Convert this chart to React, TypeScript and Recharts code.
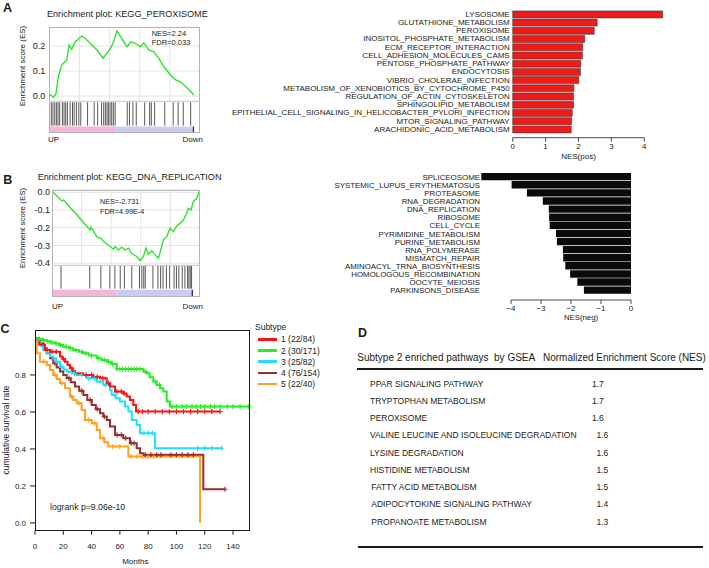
import {
  BarChart,
  Bar,
  XAxis,
  YAxis,
  LineChart,
  Line,
  CartesianGrid,
  ReferenceLine,
  ReferenceArea,
  ComposedChart,
  Scatter,
} from "recharts";

const FONT = '"Liberation Sans", Arial, Helvetica, sans-serif';
const INK = "#1a1a1a";

// ---- A (right): pathways with positive NES
const posPathways = [
  "LYSOSOME",
  "GLUTATHIONE_METABOLISM",
  "PEROXISOME",
  "INOSITOL_PHOSPHATE_METABOLISM",
  "ECM_RECEPTOR_INTERACTION",
  "CELL_ADHESION_MOLECULES_CAMS",
  "PENTOSE_PHOSPHATE_PATHWAY",
  "ENDOCYTOSIS",
  "VIBRIO_CHOLERAE_INFECTION",
  "METABOLISM_OF_XENOBIOTICS_BY_CYTOCHROME_P450",
  "REGULATION_OF_ACTIN_CYTOSKELETON",
  "SPHINGOLIPID_METABOLISM",
  "EPITHELIAL_CELL_SIGNALING_IN_HELICOBACTER_PYLORI_INFECTION",
  "MTOR_SIGNALING_PATHWAY",
  "ARACHIDONIC_ACID_METABOLISM",
];
const posNES = [4.56, 2.57, 2.48, 2.19, 2.13, 2.12, 2.07, 2.06, 2.01, 1.86, 1.85, 1.85, 1.81, 1.79, 1.78];
const posTicks = [0, 1, 2, 3, 4];

// ---- B (right): pathways with negative NES
const negPathways = [
  "SPLICEOSOME",
  "SYSTEMIC_LUPUS_ERYTHEMATOSUS",
  "PROTEASOME",
  "RNA_DEGRADATION",
  "DNA_REPLICATION",
  "RIBOSOME",
  "CELL_CYCLE",
  "PYRIMIDINE_METABOLISM",
  "PURINE_METABOLISM",
  "RNA_POLYMERASE",
  "MISMATCH_REPAIR",
  "AMINOACYL_TRNA_BIOSYNTHESIS",
  "HOMOLOGOUS_RECOMBINATION",
  "OOCYTE_MEIOSIS",
  "PARKINSONS_DISEASE",
];
const negNES = [-4.99, -3.98, -3.47, -2.94, -2.74, -2.73, -2.71, -2.5, -2.47, -2.27, -2.26, -2.19, -2.03, -1.79, -1.57];
const negTicks = [-4, -3, -2, -1, 0];

// ---- A (left): running enrichment score, KEGG_PEROXISOME
const peroxRank = [0, 0.027, 0.044, 0.06, 0.082, 0.116, 0.131, 0.149, 0.171, 0.187, 0.216, 0.238, 0.271, 0.316, 0.356, 0.382, 0.411, 0.427, 0.449, 0.471, 0.516, 0.542, 0.571, 0.604, 0.627, 0.66, 0.693, 0.727, 0.76, 0.804, 0.838, 0.871, 0.916, 0.96];
const peroxES = [0.008, -0.005, 0.008, 0.077, 0.124, 0.144, 0.204, 0.187, 0.217, 0.224, 0.24, 0.231, 0.211, 0.184, 0.151, 0.171, 0.197, 0.217, 0.261, 0.24, 0.197, 0.217, 0.211, 0.197, 0.213, 0.184, 0.177, 0.151, 0.117, 0.084, 0.064, 0.057, 0.031, 0.004];
const peroxHits = [0.013, 0.024, 0.036, 0.047, 0.058, 0.069, 0.087, 0.098, 0.109, 0.12, 0.138, 0.154, 0.165, 0.18, 0.196, 0.209, 0.254, 0.298, 0.321, 0.347, 0.361, 0.372, 0.383, 0.392, 0.403, 0.414, 0.425, 0.437, 0.517, 0.532, 0.555, 0.577, 0.633, 0.666, 0.677, 0.699, 0.766, 0.822, 0.855, 0.889, 0.938];
const peroxTicks = [0, 0.1, 0.2];

// ---- B (left): running enrichment score, KEGG_DNA_REPLICATION
const dnaRank = [0.007, 0.067, 0.079, 0.101, 0.169, 0.236, 0.258, 0.263, 0.303, 0.337, 0.348, 0.393, 0.416, 0.427, 0.449, 0.472, 0.494, 0.517, 0.539, 0.573, 0.596, 0.618, 0.634, 0.652, 0.674, 0.697, 0.719, 0.73, 0.753, 0.775, 0.798, 0.82, 0.843, 0.865, 0.888, 0.91, 0.921, 0.939, 0.955, 0.978, 0.996];
const dnaES = [0, -0.049, -0.043, -0.066, -0.128, -0.193, -0.212, -0.197, -0.25, -0.263, -0.278, -0.306, -0.321, -0.306, -0.325, -0.31, -0.325, -0.315, -0.347, -0.362, -0.385, -0.362, -0.315, -0.349, -0.33, -0.353, -0.371, -0.34, -0.268, -0.25, -0.203, -0.221, -0.19, -0.174, -0.156, -0.118, -0.09, -0.099, -0.053, -0.034, 0.004];
const dnaHits = [0.061, 0.255, 0.33, 0.391, 0.425, 0.461, 0.489, 0.539, 0.591, 0.607, 0.62, 0.63, 0.682, 0.716, 0.734, 0.75, 0.773, 0.795, 0.825, 0.841, 0.857, 0.88, 0.898, 0.916, 0.925, 0.934, 0.943];
const dnaTicks = [0, -0.1, -0.2, -0.3, -0.4];

// ---- C: Kaplan-Meier by subtype
const kmLabels = ["1 (22/84)", "2 (30/171)", "3 (25/82)", "4 (76/154)", "5 (22/40)"];
const kmColors = ["#ff1010", "#22ee22", "#22ddff", "#9b2d2d", "#ffa020"];
const kmTime1 = [0, 3, 7, 10.6, 17.7, 19.5, 21.2, 23, 24.7, 26.5, 28.3, 34, 41.2, 46, 50.7, 53, 56.6, 62.4, 64.8, 67.2, 69.5, 71.4, 130.8];
const kmSurv1 = [1, 0.965, 0.935, 0.926, 0.9, 0.886, 0.872, 0.854, 0.836, 0.822, 0.809, 0.8, 0.79, 0.782, 0.755, 0.737, 0.71, 0.7, 0.683, 0.665, 0.638, 0.602, 0.602];
const kmCensor1 = [12, 15, 20, 26, 36, 40, 44, 48, 52, 58, 61, 63, 73, 76, 80, 85, 90, 95, 100, 105, 110, 115, 120, 125, 130.8];
const kmTime2 = [0, 2, 5, 8, 10.6, 14, 17, 20, 24, 27, 31, 34, 38, 43.6, 47, 50.7, 54, 57.8, 76.6, 79, 81, 83.6, 86, 88.4, 90.7, 93.1, 95.4, 150.8];
const kmSurv2 = [1, 0.994, 0.988, 0.982, 0.976, 0.97, 0.962, 0.953, 0.944, 0.935, 0.926, 0.917, 0.905, 0.89, 0.881, 0.872, 0.86, 0.832, 0.818, 0.809, 0.787, 0.764, 0.746, 0.728, 0.71, 0.656, 0.629, 0.629];
const kmCensor2 = [3, 6, 9, 12, 15, 18, 22, 25, 29, 33, 36, 40, 45, 49, 52, 55, 58, 60, 62, 64, 66, 68, 70, 72, 74, 78, 85, 88, 97, 100, 104, 107, 111, 114, 117, 120, 124, 127, 131, 136, 140, 145, 150.8];
const kmTime3 = [0, 2, 4, 5.9, 8, 10.6, 13, 15, 17.7, 20, 22.4, 26, 29.5, 36.5, 43.6, 48.3, 53, 54.2, 57, 60, 63.6, 66, 68.4, 71.9, 74.2, 84.8, 132];
const kmSurv3 = [1, 0.98, 0.957, 0.935, 0.917, 0.9, 0.89, 0.872, 0.845, 0.83, 0.818, 0.809, 0.8, 0.782, 0.764, 0.746, 0.719, 0.692, 0.674, 0.656, 0.629, 0.602, 0.557, 0.53, 0.485, 0.404, 0.404];
const kmCensor3 = [15, 19, 24, 28, 33, 38, 42, 46, 50, 56, 77, 80, 83, 115, 120, 125, 132];
const kmTime4 = [0, 2, 3.5, 6, 8.3, 10.6, 12.9, 15.3, 17.7, 20, 22.4, 25.3, 28.3, 31.2, 34.2, 37, 40.1, 43, 46, 48.3, 50.7, 53, 56.6, 62.4, 67.2, 71.9, 74.2, 76.6, 119, 134.3];
const kmSurv4 = [1, 0.985, 0.971, 0.944, 0.917, 0.89, 0.863, 0.84, 0.818, 0.8, 0.782, 0.76, 0.737, 0.714, 0.692, 0.665, 0.638, 0.615, 0.593, 0.575, 0.557, 0.521, 0.476, 0.458, 0.431, 0.404, 0.377, 0.368, 0.182, 0.182];
const kmCensor4 = [14, 24, 33, 39, 44, 49, 58, 61, 64, 68, 70, 78, 82, 86, 89, 96, 100, 104, 108, 112, 134.3];
const kmTime5 = [0, 1.2, 3.5, 8.3, 10.6, 12.9, 15.3, 17.7, 21.2, 24.7, 27, 29.5, 33, 35.3, 40.1, 43.6, 46, 49, 51.8, 66, 116.7, 116.7];
const kmSurv5 = [1, 0.917, 0.872, 0.854, 0.827, 0.8, 0.778, 0.755, 0.728, 0.683, 0.665, 0.647, 0.611, 0.557, 0.539, 0.503, 0.458, 0.436, 0.413, 0.359, 0.359, 0];
const kmCensor5 = [6, 14, 19, 26, 31, 38, 42, 48, 55, 60, 68, 72, 76, 80, 84];
const kmXTicks = [0, 20, 40, 60, 80, 100, 120, 140];
const kmYTicks = [0, 0.2, 0.4, 0.6, 0.8];

// ---- D: table
const tablePathways = [
  "PPAR SIGNALING PATHWAY",
  "TRYPTOPHAN METABOLISM",
  "PEROXISOME",
  "VALINE LEUCINE AND ISOLEUCINE DEGRADATION",
  "LYSINE DEGRADATION",
  "HISTIDINE METABOLISM",
  "FATTY ACID METABOLISM",
  "ADIPOCYTOKINE SIGNALING PATHWAY",
  "PROPANOATE METABOLISM",
];
const tableNES = ["1.7", "1.7", "1.6", "1.6", "1.6", "1.5", "1.5", "1.4", "1.3"];

// layout of the two NES bar charts
const TICK_LEN = 4;
const TICK_GAP = 1.5;
const POS_YW = 312.7;
const POS_MAX = 4.6;
const POS_PLOT_W = 151.3;
const NEG_YW = 281;
const NEG_MIN = -5;
const NEG_PLOT_W = 150;

function makeNesTick(unitPx: number, lastValue: number) {
  return function NesTick(props: any) {
    const { x, y, payload } = props;
    const v = payload.value as number;
    const axisY = y - TICK_LEN - TICK_GAP;
    return (
      <g>
        {v < lastValue && (
          <line x1={x} x2={x + unitPx} y1={axisY} y2={axisY} stroke={INK} strokeWidth={0.8} />
        )}
        <line x1={x} x2={x} y1={axisY} y2={axisY + TICK_LEN} stroke={INK} strokeWidth={0.8} />
        <text x={x} y={y} dy="0.72em" textAnchor="middle" fontSize={8} fill={INK}>
          {v < 0 ? `\u2212${-v}` : `${v}`}
        </text>
      </g>
    );
  };
}

const posTick = makeNesTick(POS_PLOT_W / POS_MAX, 4);
const negTick = makeNesTick(NEG_PLOT_W / -NEG_MIN, 0);

function Txt({ x, y, size, anchor = "start", bold, rotate, children }: any) {
  const shift = anchor === "middle" ? "-50%" : anchor === "end" ? "-100%" : "0%";
  return (
    <div
      style={{
        position: "absolute",
        left: x,
        top: y,
        fontSize: size,
        fontWeight: bold ? 700 : 400,
        lineHeight: 1,
        whiteSpace: "pre",
        transform: `translate(${shift}, -50%)${rotate ? ` rotate(${rotate}deg)` : ""}`,
      }}
    >
      {children}
    </div>
  );
}

// Running-ES line on top, gene hits and ranked-list colour bar beneath it
function GseaPanel(p: any) {
  const esData = p.rank.map((x: number, i: number) => ({ x, es: p.es[i] }));
  const hitData = p.hits.map((x: number) => ({ x, y: p.hitY[0] }));
  const hitH = p.boxBottom - p.esBottom;
  const extra = 8; // room under the plot so the lowest tick label is not cut
  return (
    <>
      <div style={{ position: "absolute", left: 0, top: 0 }}>
        <LineChart
          width={p.boxRight + 5}
          height={p.esBottom + extra}
          data={esData}
          margin={{ top: p.boxTop, right: 5, left: 0, bottom: extra }}
        >
          <CartesianGrid stroke="#e4e4e4" verticalValues={[0.2, 0.4, 0.6, 0.8]} />
          <XAxis type="number" dataKey="x" domain={[0, 1]} ticks={[0.2, 0.4, 0.6, 0.8]} hide />
          <YAxis
            type="number"
            domain={p.domain}
            allowDataOverflow
            ticks={p.ticks}
            interval={0}
            width={p.boxLeft}
            tickFormatter={(v: number) => v.toFixed(1)}
            axisLine={false}
            tickLine={false}
            tickSize={p.tickSize}
            tickMargin={2}
            tick={{ fontSize: 9, fill: INK }}
          />
          <Line dataKey="es" stroke="#2be52b" strokeWidth={1.4} dot={false} isAnimationActive={false} />
        </LineChart>
      </div>
      <div style={{ position: "absolute", left: 0, top: p.esBottom }}>
        <ComposedChart
          width={p.boxRight + 5}
          height={hitH}
          data={hitData}
          margin={{ top: 0, right: 5, left: p.boxLeft, bottom: 0 }}
        >
          <XAxis type="number" dataKey="x" domain={[0, 1]} allowDataOverflow hide />
          <YAxis type="number" domain={[0, 1]} allowDataOverflow hide />
          <Line dataKey="y" stroke="none" dot={false} isAnimationActive={false} />
          <ReferenceArea x1={0} x2={p.pinkEnd} y1={p.barY[0]} y2={p.barY[1]} fill="#f6b4da" fillOpacity={1} stroke="none" />
          <ReferenceArea x1={p.pinkEnd} x2={p.blue[0]} y1={p.barY[0]} y2={p.barY[1]} fill="#c9cbf4" fillOpacity={1} stroke="none" />
          <ReferenceArea x1={p.blue[0]} x2={p.blue[1]} y1={p.barY[0]} y2={p.barY[1]} fill="#3a26b0" fillOpacity={1} stroke="none" />
          {p.hits.map((h: number, i: number) => (
            <ReferenceLine
              key={i}
              segment={[
                { x: h, y: p.hitY[0] },
                { x: h, y: p.hitY[1] },
              ]}
              stroke="#444"
              strokeWidth={0.9}
            />
          ))}
        </ComposedChart>
      </div>
      <div
        style={{
          position: "absolute",
          left: p.boxLeft,
          top: p.boxTop,
          width: p.boxRight - p.boxLeft,
          height: p.boxBottom - p.boxTop,
          border: "1px solid #b4b4b4",
          boxSizing: "border-box",
        }}
      />
      <div
        style={{
          position: "absolute",
          left: p.boxLeft,
          top: p.esBottom,
          width: p.boxRight - p.boxLeft,
          borderTop: "1px solid #cfcfcf",
        }}
      />
    </>
  );
}

function survAt(times: number[], surv: number[], t: number) {
  let s = surv[0];
  for (let i = 0; i < times.length; i++) if (times[i] <= t) s = surv[i];
  return s;
}

const kmSeries = [
  [kmTime1, kmSurv1, kmCensor1],
  [kmTime2, kmSurv2, kmCensor2],
  [kmTime3, kmSurv3, kmCensor3],
  [kmTime4, kmSurv4, kmCensor4],
  [kmTime5, kmSurv5, kmCensor5],
].map(([times, surv, censor], i) => ({
  color: kmColors[i],
  label: kmLabels[i],
  steps: times.map((t, j) => ({ t, s: surv[j] })),
  censored: censor.map((t) => ({ t, s: survAt(times, surv, t) })),
}));

const makeCensorMark = (color: string) => (props: any) => {
  const { cx, cy } = props;
  if (cx == null || cy == null) return null;
  return <path d={`M${cx - 2.6},${cy}h5.2M${cx},${cy - 2.6}v5.2`} stroke={color} strokeWidth={1.1} fill="none" />;
};

export default function App() {
  const posData = posPathways.map((name, i) => ({ name, nes: posNES[i] }));
  const negData = negPathways.map((name, i) => ({ name, nes: negNES[i] }));
  const drawOrder = [4, 3, 2, 0, 1];

  return (
    <div
      style={{
        position: "absolute",
        left: 0,
        top: 0,
        width: 709,
        height: 568,
        background: "#fff",
        color: INK,
        fontFamily: FONT,
        overflow: "hidden",
      }}
    >
      {/* ---------- A ---------- */}
      <Txt x={3} y={7.5} size={12.5} bold>A</Txt>
      <Txt x={47} y={15} size={9.1}>Enrichment plot: KEGG_PEROXISOME</Txt>
      <GseaPanel
        rank={peroxRank}
        es={peroxES}
        hits={peroxHits}
        domain={[-0.02, 0.275]}
        ticks={peroxTicks}
        tickSize={2}
        boxLeft={49.3}
        boxRight={200}
        boxTop={27.3}
        esBottom={101}
        boxBottom={133}
        pinkEnd={0.445}
        blue={[0.952, 0.961]}
        barY={[0.01, 0.2]}
        hitY={[0.23, 0.96]}
      />
      <Txt x={23} y={66} size={8} anchor="middle" rotate={-90}>Enrichment score (ES)</Txt>
      <Txt x={151.7} y={34.3} size={7.5}>NES=2.24</Txt>
      <Txt x={151.7} y={43.3} size={7.5}>FDR=0.033</Txt>
      <Txt x={48} y={140} size={8}>UP</Txt>
      <Txt x={203} y={140} size={8} anchor="end">Down</Txt>

      <div style={{ position: "absolute", left: 200, top: 0 }}>
        <BarChart
          layout="vertical"
          width={POS_YW + POS_PLOT_W + 5}
          height={162.7}
          data={posData}
          margin={{ top: 9.9, right: 5, bottom: 0, left: 0 }}
        >
          <XAxis
            type="number"
            domain={[0, POS_MAX]}
            ticks={posTicks}
            interval={0}
            height={25}
            axisLine={false}
            tickLine={false}
            tickSize={TICK_LEN}
            tickMargin={TICK_GAP}
            tick={posTick}
          />
          <YAxis
            type="category"
            dataKey="name"
            width={POS_YW}
            interval={0}
            axisLine={false}
            tickLine={false}
            tickSize={1}
            tickMargin={2}
            padding={{ top: 0, bottom: 4.6 }}
            tick={{ fontSize: 8, fill: INK }}
          />
          <Bar dataKey="nes" fill="#ee1b1b" stroke="#3a3a3a" strokeWidth={0.6} barSize={7} isAnimationActive={false} />
        </BarChart>
      </div>
      <Txt x={578.5} y={157.3} size={8} anchor="middle">NES(pos)</Txt>

      {/* ---------- B ---------- */}
      <Txt x={3.3} y={180} size={12.5} bold>B</Txt>
      <Txt x={37.7} y={178.3} size={9.1}>Enrichment plot: KEGG_DNA_REPLICATION</Txt>
      <GseaPanel
        rank={dnaRank}
        es={dnaES}
        hits={dnaHits}
        domain={[-0.41, 0.013]}
        ticks={dnaTicks}
        tickSize={0}
        boxLeft={52}
        boxRight={200}
        boxTop={190}
        esBottom={265}
        boxBottom={297}
        pinkEnd={0.437}
        blue={[0.943, 0.953]}
        barY={[0.02, 0.23]}
        hitY={[0.26, 0.99]}
      />
      <Txt x={23} y={228} size={8} anchor="middle" rotate={-90}>Enrichment score (ES)</Txt>
      <Txt x={100} y={202.3} size={7.2}>NES=-2.731</Txt>
      <Txt x={100} y={211.7} size={7.2}>FDR=4.99E-4</Txt>
      <Txt x={52} y={306.7} size={8}>UP</Txt>
      <Txt x={203} y={306.7} size={8} anchor="end">Down</Txt>

      <div style={{ position: "absolute", left: 200, top: 165 }}>
        <BarChart
          layout="vertical"
          width={NEG_YW + NEG_PLOT_W + 5}
          height={157}
          data={negData}
          margin={{ top: 7.95, right: 5, bottom: 0, left: 0 }}
        >
          <XAxis
            type="number"
            domain={[NEG_MIN, 0]}
            ticks={negTicks}
            interval={0}
            height={22}
            axisLine={false}
            tickLine={false}
            tickSize={TICK_LEN}
            tickMargin={TICK_GAP}
            tick={negTick}
          />
          <YAxis
            type="category"
            dataKey="name"
            width={NEG_YW}
            interval={0}
            axisLine={false}
            tickLine={false}
            tickSize={0}
            tickMargin={1}
            padding={{ top: 0, bottom: 5.45 }}
            tick={{ fontSize: 7.9, fill: INK }}
          />
          <Bar dataKey="nes" fill="#0a0a0a" barSize={7.4} isAnimationActive={false} />
        </BarChart>
      </div>
      <Txt x={581} y={318.3} size={7.8} anchor="middle">NES(neg)</Txt>

      {/* ---------- C ---------- */}
      <Txt x={0.5} y={329} size={12.5} bold>C</Txt>
      <div style={{ position: "absolute", left: 0, top: 320 }}>
        <ComposedChart width={260} height={248} margin={{ top: 10, right: 10, left: 0, bottom: 0 }}>
          <XAxis
            type="number"
            dataKey="t"
            domain={[0, 152]}
            ticks={kmXTicks}
            interval={0}
            height={37.3}
            axisLine={false}
            tickSize={4}
            tickMargin={9}
            stroke={INK}
            tick={{ fontSize: 8, fill: INK }}
          />
          <YAxis
            type="number"
            domain={[-0.042, 1.043]}
            ticks={kmYTicks}
            interval={0}
            width={35}
            axisLine={false}
            tickSize={5}
            tickMargin={4}
            stroke={INK}
            tickFormatter={(v: number) => v.toFixed(1)}
            tick={{ fontSize: 8, fill: INK }}
          />
          {drawOrder.map((i) => (
            <Line
              key={`l${i}`}
              data={kmSeries[i].steps}
              dataKey="s"
              type="stepAfter"
              stroke={kmSeries[i].color}
              strokeWidth={2}
              dot={false}
              isAnimationActive={false}
            />
          ))}
          {drawOrder.map((i) => (
            <Scatter
              key={`c${i}`}
              data={kmSeries[i].censored}
              dataKey="s"
              shape={makeCensorMark(kmSeries[i].color)}
              isAnimationActive={false}
            />
          ))}
        </ComposedChart>
      </div>
      <div
        style={{
          position: "absolute",
          left: 35,
          top: 330,
          width: 215,
          height: 200.7,
          border: `1px solid ${INK}`,
          boxSizing: "border-box",
        }}
      />
      <Txt x={6} y={430} size={8.5} anchor="middle" rotate={-90}>cumulative survival rate</Txt>
      <Txt x={135.3} y={561.7} size={8} anchor="middle">Months</Txt>
      <Txt x={50} y={506.7} size={8.7}>logrank p=9.06e-10</Txt>
      <Txt x={255} y={327} size={8.5}>Subtype</Txt>
      {kmSeries.map((s, i) => (
        <div key={i}>
          <div
            style={{
              position: "absolute",
              left: 258,
              top: 339.3 + i * 11.2 - 1.25,
              width: 19,
              height: 2.5,
              background: s.color,
            }}
          />
          <Txt x={281} y={339.3 + i * 11.2} size={8.5}>{s.label}</Txt>
        </div>
      ))}

      {/* ---------- D ---------- */}
      <Txt x={358} y={333} size={12.5} bold>D</Txt>
      <Txt x={357.3} y={358.3} size={10}>Subtype 2 enriched pathways  by GSEA   Normalized Enrichment Score (NES)</Txt>
      <div style={{ position: "absolute", left: 357, top: 368.3, width: 346, height: 1.6, background: INK }} />
      {tablePathways.map((name, i) => (
        <div key={name}>
          <Txt x={i < 6 ? 370 : 371.3} y={383.5 + i * 17.25} size={8.5}>{name}</Txt>
          <Txt x={i < 3 ? 592 : 596.5} y={383.5 + i * 17.25} size={8.5}>{tableNES[i]}</Txt>
        </div>
      ))}
      <div style={{ position: "absolute", left: 358, top: 546, width: 345, height: 1.6, background: INK }} />
    </div>
  );
}
